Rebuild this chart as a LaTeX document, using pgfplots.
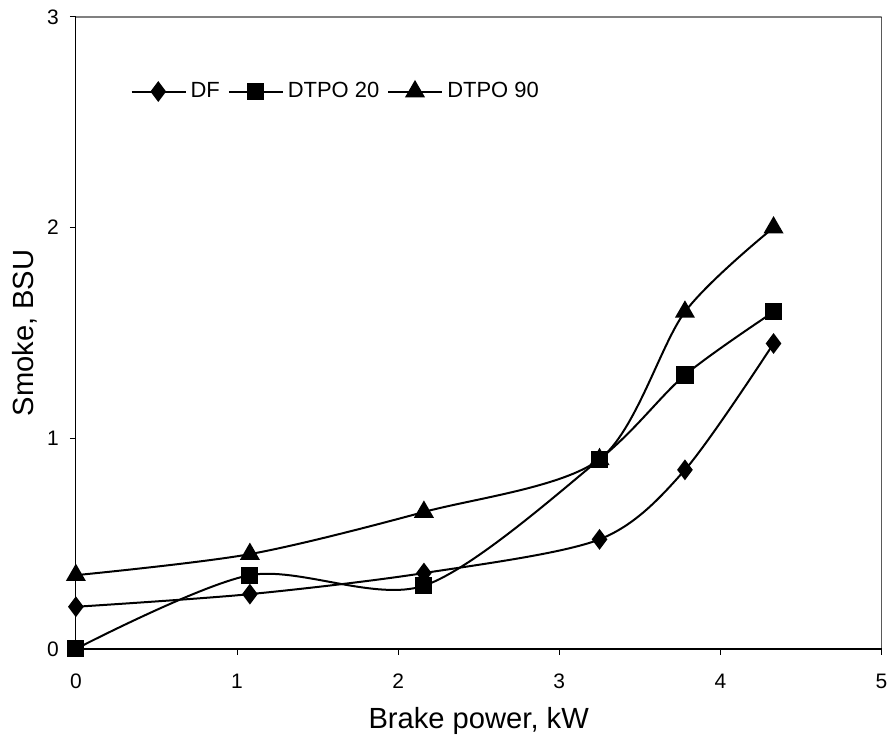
\documentclass[border=0pt]{standalone}
\usepackage{pgfplots}
\pgfplotsset{compat=1.18}
\usepackage{fontspec}
\setmainfont{Liberation Sans}
\begin{document}
\begin{tikzpicture}
\begin{axis}[
  scale only axis, width=403.5pt, height=316.5pt,
  xmin=0, xmax=5, ymin=0, ymax=3,
  xtick={0,1,2,3,4,5}, ytick={0,1,2,3},
  axis x line*=bottom, axis y line*=left,
  axis line style={black, line width=0.6pt},
  tick align=outside, major tick length=3pt,
  tick style={black, line width=0.5pt},
  /pgf/number format/assume math mode=true,
  ticklabel style={font=\fontsize{10.5}{12}\selectfont},
  xticklabel style={yshift=-6pt},
  yticklabel style={xshift=-2pt},
  xlabel={Brake power, kW}, ylabel={Smoke, BSU},
  label style={font=\fontsize{14.6}{17}\selectfont},
  xlabel style={yshift=-2.5pt},
  ylabel style={yshift=-2pt},
  legend columns=3,
  legend style={draw=none, fill=none, at={(0.06,0.882)}, anchor=west,
    font=\fontsize{11}{13}\selectfont, column sep=0pt,
    /tikz/every even column/.append style={column sep=2pt}},
  legend image code/.code={\draw[mark repeat=2,mark phase=2] plot coordinates {(0cm,0cm)(0.47cm,0cm)(0.95cm,0cm)};},
  every axis plot/.append style={black, line width=1pt, smooth, tension=0.5},
]
\addplot[mark=diamond*, mark size=4.4pt, mark options={solid, fill=black}] coordinates {
 (0,0.2) (1.08,0.26) (2.16,0.36) (3.25,0.52) (3.78,0.85) (4.33,1.45)};
\addlegendentry{DF}
\addplot[mark=square*, mark size=3.8pt, mark options={solid, fill=black}] coordinates {
 (0,0) (1.08,0.35) (2.16,0.3) (3.25,0.9) (3.78,1.3) (4.33,1.6)};
\addlegendentry{DTPO 20}
\addplot[mark=triangle*, mark size=4.8pt, mark options={solid, fill=black}] coordinates {
 (0,0.35) (1.08,0.45) (2.16,0.65) (3.25,0.9) (3.78,1.6) (4.33,2.0)};
\addlegendentry{DTPO 90}
\draw[gray, line width=0.8pt] (rel axis cs:0,1) -- (rel axis cs:1,1);
\draw[black, line width=0.6pt] (rel axis cs:1,0) -- (rel axis cs:1,1);
\end{axis}
\path (current axis.south west) ++(-38pt,-47pt) coordinate (bl);
\path (current axis.north east) ++(5.5pt,8.5pt) coordinate (tr);
\useasboundingbox (bl) rectangle (tr);
\end{tikzpicture}
\end{document}
